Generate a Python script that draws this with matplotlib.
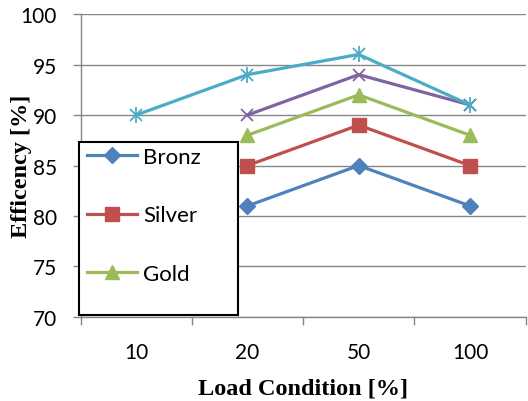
import numpy as np
from matplotlib import pyplot as plt
from matplotlib.patches import Rectangle

loads = ['10', '20', '50', '100']
bronz = [np.nan, 81, 85, 81]
silver = [np.nan, 85, 89, 85]
gold = [np.nan, 88, 92, 88]
platinum = [np.nan, 90, 94, 91]
titanium = [90, 94, 96, 91]

plt.rcParams['font.family'] = 'Lato'

fig = plt.figure(figsize=(5.28, 4.02), dpi=100)
ax = fig.add_axes([0.1525, 0.209, 0.843, 0.7535])

x = np.arange(len(loads))
lw = 2.3
ax.plot(x, bronz, color='#4F81BD', lw=lw, marker='D', ms=8.5, label='Bronz', zorder=3)
ax.plot(x, silver, color='#C0504D', lw=lw, marker='s', ms=9.5, label='Silver', zorder=3)
ax.plot(x, gold, color='#9BBB59', lw=lw, marker='^', ms=10, label='Gold', zorder=3)
ax.plot(x, platinum, color='#8064A2', lw=lw, marker='x', ms=9, mew=1.3, zorder=3)
ax.plot(x, titanium, color='#4BACC6', lw=lw, marker='x', ms=9, mew=1.3, zorder=3)
ax.plot(x, titanium, color='#4BACC6', lw=0, marker='|', ms=11, mew=1.3, zorder=3)

ax.set_xlim(-0.5, 3.5)
ax.set_ylim(70, 100)
ax.set_yticks(np.arange(70, 101, 5))
ax.yaxis.grid(True, color='#868686', lw=1)
ax.set_axisbelow(True)

ax.set_xticks(x)
ax.set_xticklabels(loads)
ax.set_xticks(np.arange(-0.5, 3.6, 1), minor=True)
ax.tick_params(axis='x', which='major', length=0, pad=18, labelsize=15)
ax.tick_params(axis='x', which='minor', length=6, color='#868686', width=1)
ax.tick_params(axis='y', length=6, color='#868686', width=1, pad=11, labelsize=15)

for s in ['top', 'right']:
    ax.spines[s].set_visible(False)
for s in ['left', 'bottom']:
    ax.spines[s].set_color('#868686')
    ax.spines[s].set_linewidth(1)

ax.set_xlabel('Load Condition [%]', family='Liberation Serif', fontweight='bold',
              fontsize=17.5, va='top')
ax.xaxis.set_label_coords(0.5, -0.201)
ax.set_ylabel('Efficency [%]', family='Liberation Serif', fontweight='bold',
              fontsize=17.5)
ax.yaxis.set_label_coords(-0.109, 0.5)

box = Rectangle((-0.003, 0.0066), 0.357, 0.571, transform=ax.transAxes,
                facecolor='white', edgecolor='black', lw=1.5, zorder=5, clip_on=False)
ax.add_patch(box)
leg = ax.legend(loc='upper left', bbox_to_anchor=(0.0146, 0.561), frameon=False,
                fontsize=16, handlelength=2.25, handletextpad=0.27, labelspacing=1.73,
                borderpad=0, borderaxespad=0)
leg.set_zorder(6)

plt.savefig('out.png')
plt.close()
